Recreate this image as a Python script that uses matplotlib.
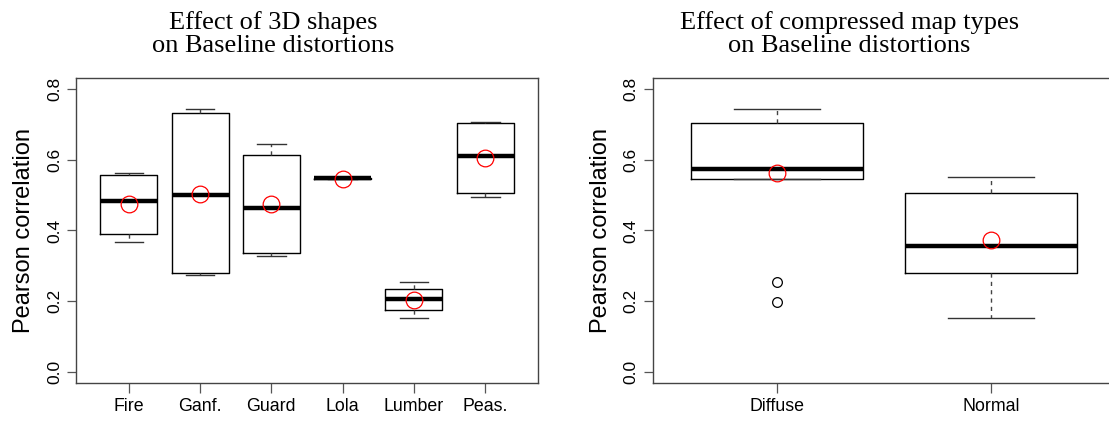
import matplotlib
matplotlib.use("Agg")
import matplotlib.pyplot as plt

# left panel: 3D shapes
shapes = ["Fire", "Ganf.", "Guard", "Lola", "Lumber", "Peas."]
shape_whislo = [0.367, 0.274, 0.327, 0.545, 0.152, 0.496]
shape_q1 = [0.391, 0.279, 0.336, 0.545, 0.175, 0.507]
shape_med = [0.484, 0.500, 0.464, 0.547, 0.206, 0.610]
shape_q3 = [0.558, 0.731, 0.612, 0.549, 0.235, 0.704]
shape_whishi = [0.563, 0.744, 0.644, 0.549, 0.254, 0.706]
shape_mean = [0.474, 0.504, 0.474, 0.546, 0.205, 0.604]

# right panel: compressed map types
maptypes = ["Diffuse", "Normal"]
map_whislo = [0.545, 0.152]
map_q1 = [0.546, 0.280]
map_med = [0.573, 0.357]
map_q3 = [0.705, 0.507]
map_whishi = [0.744, 0.551]
map_mean = [0.562, 0.373]
map_fliers = [[0.254, 0.197], []]

titles = ["Effect of 3D shapes\non Baseline distortions",
          "Effect of compressed map types\non Baseline distortions"]


def make_stats(labels, lo, q1, med, q3, hi, mean, fliers=None):
    stats = []
    for i, lab in enumerate(labels):
        stats.append({
            "label": lab, "whislo": lo[i], "q1": q1[i], "med": med[i],
            "q3": q3[i], "whishi": hi[i], "mean": mean[i],
            "fliers": fliers[i] if fliers else [],
        })
    return stats


def draw(ax, stats):
    ax.bxp(stats, widths=0.8, showmeans=True, patch_artist=False,
           boxprops=dict(color="black", lw=1.0),
           medianprops=dict(color="black", lw=3.2, solid_capstyle="butt"),
           whiskerprops=dict(color="#444444", lw=1.0, ls=(0, (3, 3))),
           capprops=dict(color="#333333", lw=1.0),
           capwidths=0.4,
           flierprops=dict(marker="o", mfc="none", mec="black", ms=7, mew=0.9),
           meanprops=dict(marker="o", mfc="none", mec="red", ms=12, mew=0.9))
    n = len(stats)
    pad = 0.04 * n
    ax.set_xlim(0.5 - pad, n + 0.5 + pad)
    ax.set_ylim(-0.030, 0.830)
    ax.set_yticks([0.0, 0.2, 0.4, 0.6, 0.8])
    ax.set_yticklabels(["0.0", "0.2", "0.4", "0.6", "0.8"], rotation=90,
                       va="center", fontsize=12.5)
    ax.tick_params(axis="y", length=6.5, width=0.9, color="#555555", pad=3.5)
    ax.tick_params(axis="x", length=7, width=0.9, color="#555555", pad=4,
                   labelsize=12.8)
    for s in ax.spines.values():
        s.set_color("#444444")
        s.set_linewidth(1.0)
    ax.set_ylabel("Pearson correlation", fontsize=17)
    ax.yaxis.set_label_coords(-0.088, 0.5)


plt.rcParams["font.family"] = ["Liberation Sans", "DejaVu Sans"]

fig = plt.figure(figsize=(11.09, 4.21), dpi=100)
ax1 = fig.add_axes([76 / 1109, 38.3 / 421, 462 / 1109, 304.4 / 421])
ax2 = fig.add_axes([652.7 / 1109, 38.3 / 421, 462.6 / 1109, 304.4 / 421])

draw(ax1, make_stats(shapes, shape_whislo, shape_q1, shape_med, shape_q3,
                     shape_whishi, shape_mean))
draw(ax2, make_stats(maptypes, map_whislo, map_q1, map_med, map_q3,
                     map_whishi, map_mean, map_fliers))

fig.text(273 / 1109, 1 - 34 / 421, titles[0], ha="center", va="center",
         fontsize=19, family="Liberation Serif", linespacing=1.08)
fig.text(849.5 / 1109, 1 - 34 / 421, titles[1], ha="center", va="center",
         fontsize=19, family="Liberation Serif", linespacing=1.08)

fig.savefig("out.png", dpi=100)
